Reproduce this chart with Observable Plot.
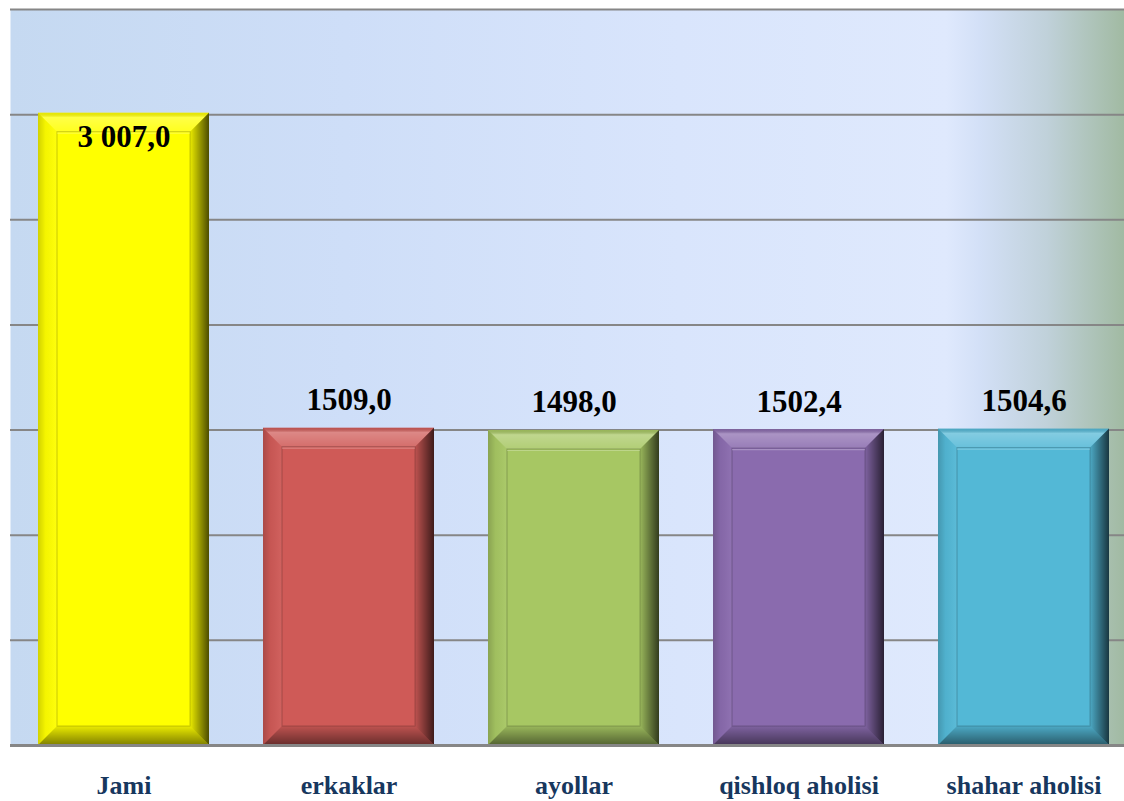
<!DOCTYPE html>
<html>
<head>
<meta charset="utf-8">
<script src="https://cdn.jsdelivr.net/npm/d3@7"></script>
<script src="https://cdn.jsdelivr.net/npm/@observablehq/plot@0.6"></script>
<style>
  html, body { margin: 0; padding: 0; background: #ffffff; }
  #chart svg { display: block; }
</style>
</head>
<body>
<div id="chart"></div>
<script>
const categories = ["Jami", "erkaklar", "ayollar", "qishloq aholisi", "shahar aholisi"];
const values = [3007.0, 1509.0, 1498.0, 1502.4, 1504.6];
const valueLabels = ["3 007,0", "1509,0", "1498,0", "1502,4", "1504,6"];
const barColors = ["#FFFF00", "#CF5A57", "#A7C763", "#8A6BAE", "#53B8D6"];
const yTicks = [0, 500, 1000, 1500, 2000, 2500, 3000, 3500];

const data = categories.map((c, i) => ({
  category: c, value: values[i], label: valueLabels[i], color: barColors[i], inside: i === 0
}));

const NS = "http://www.w3.org/2000/svg";
function el(name, attrs) {
  const e = document.createElementNS(NS, name);
  for (const k in attrs) e.setAttribute(k, attrs[k]);
  return e;
}

// bevel decoration drawn from the rects that Plot produced
function bevel(index, scales, values, dimensions, context, next) {
  const g = next(index, scales, values, dimensions, context);
  const rects = Array.from(g.querySelectorAll("rect"));
  const deco = el("g", {});
  const b = 19;
  for (const r of rects) {
    const x = +r.getAttribute("x"), y = +r.getAttribute("y");
    const w = +r.getAttribute("width"), h = +r.getAttribute("height");
    const x2 = x + w, y2 = y + h;
    const poly = (pts, fill) => deco.appendChild(el("polygon", {points: pts.map(p => p.join(",")).join(" "), fill}));
    poly([[x, y], [x2, y], [x2 - b, y + b], [x + b, y + b]], "url(#bvTop)");
    poly([[x, y], [x + b, y + b], [x + b, y2 - b], [x, y2]], "url(#bvLeft)");
    poly([[x2, y], [x2, y2], [x2 - b, y2 - b], [x2 - b, y + b]], "url(#bvRight)");
    poly([[x, y2], [x + b, y2 - b], [x2 - b, y2 - b], [x2, y2]], "url(#bvBottom)");
    deco.appendChild(el("rect", {x: x + b, y: y + b, width: w - 2 * b, height: h - 2 * b,
      fill: "none", stroke: "rgba(0,0,0,0.18)", "stroke-width": 1.2}));
    deco.appendChild(el("line", {x1: x + b, x2: x2 - b, y1: y + b + 1.5, y2: y + b + 1.5,
      stroke: "rgba(255,255,255,0.25)", "stroke-width": 1.2}));
  }
  g.appendChild(deco);
  return g;
}

const serif = "'Liberation Serif', 'Times New Roman', serif";

const chart = Plot.plot({
  width: 1124,
  height: 801,
  marginTop: 9,
  marginBottom: 56,
  marginLeft: 10,
  marginRight: 0,
  x: { domain: categories, range: [11, 1136], paddingInner: 0.24, paddingOuter: 0.12, label: null, axis: null },
  y: { domain: [0, 3500], label: null, axis: null },
  marks: [
    Plot.frame({ fill: "url(#bgGrad)", stroke: "none" }),
    Plot.ruleY(yTicks, { stroke: "#868686", strokeWidth: 2 }),
    Plot.barY(data, { x: "category", y: "value", fill: "color", render: bevel }),
    Plot.ruleY([0], { stroke: "#868686", strokeWidth: 3 }),
    Plot.text(data.filter(d => !d.inside), {
      x: "category", y: "value", text: "label", lineAnchor: "bottom", dy: -18,
      fontFamily: serif, fontWeight: "bold", fontSize: 31, fill: "#000000"
    }),
    Plot.text(data.filter(d => d.inside), {
      x: "category", y: "value", text: "label", lineAnchor: "bottom", dy: 34,
      fontFamily: serif, fontWeight: "bold", fontSize: 31, fill: "#000000"
    }),
    Plot.axisX({
      tickSize: 0, tickPadding: 30, label: null,
      fontFamily: serif, fontWeight: "bold", fontSize: 26, fill: "#17375E"
    })
  ]
});

const defs = el("defs", {});
defs.innerHTML = `
  <linearGradient id="bgGrad" x1="0" y1="0" x2="1" y2="0">
    <stop offset="0" stop-color="#C5D9F1"/>
    <stop offset="0.3" stop-color="#CEDEF8"/>
    <stop offset="0.6" stop-color="#D9E5FC"/>
    <stop offset="0.84" stop-color="#DFE9FD"/>
    <stop offset="0.87" stop-color="#D3E0F7"/>
    <stop offset="0.93" stop-color="#C0D1DA"/>
    <stop offset="1" stop-color="#A1BAA2"/>
  </linearGradient>
  <linearGradient id="bvTop" x1="0" y1="0" x2="0" y2="1">
    <stop offset="0" stop-color="#000" stop-opacity="0.08"/>
    <stop offset="0.25" stop-color="#fff" stop-opacity="0.28"/>
    <stop offset="1" stop-color="#fff" stop-opacity="0.12"/>
  </linearGradient>
  <linearGradient id="bvLeft" x1="0" y1="0" x2="1" y2="0">
    <stop offset="0" stop-color="#000" stop-opacity="0.18"/>
    <stop offset="0.4" stop-color="#000" stop-opacity="0.04"/>
    <stop offset="1" stop-color="#fff" stop-opacity="0.05"/>
  </linearGradient>
  <linearGradient id="bvRight" x1="0" y1="0" x2="1" y2="0">
    <stop offset="0" stop-color="#000" stop-opacity="0.08"/>
    <stop offset="1" stop-color="#000" stop-opacity="0.7"/>
  </linearGradient>
  <linearGradient id="bvBottom" x1="0" y1="0" x2="0" y2="1">
    <stop offset="0" stop-color="#000" stop-opacity="0.08"/>
    <stop offset="1" stop-color="#000" stop-opacity="0.5"/>
  </linearGradient>`;
chart.insertBefore(defs, chart.firstChild);
document.getElementById("chart").appendChild(chart);
</script>
</body>
</html>
